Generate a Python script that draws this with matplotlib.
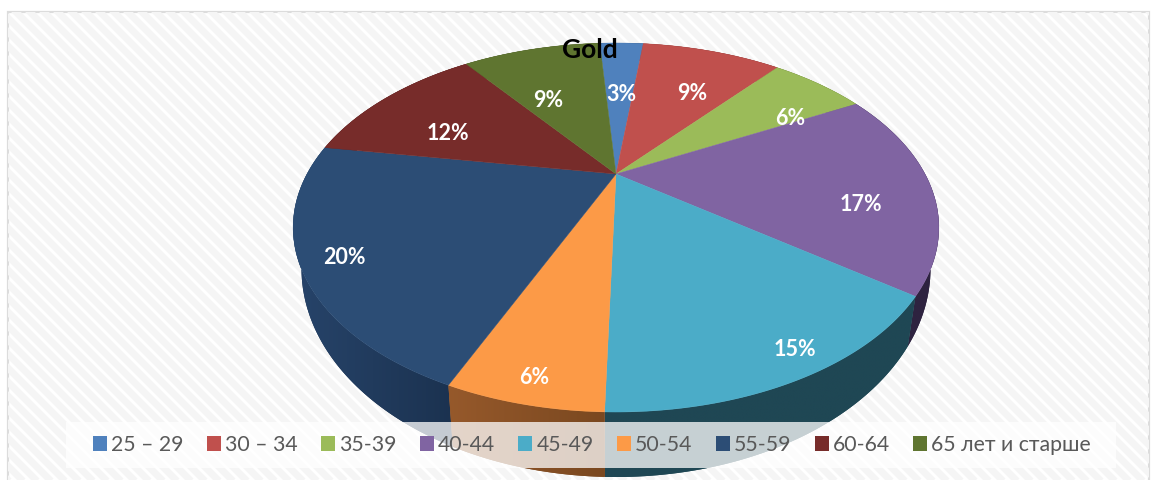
import numpy as np
import matplotlib
matplotlib.use("Agg")
import matplotlib.pyplot as plt
from matplotlib.patches import Rectangle, Patch, Polygon
from matplotlib.collections import LineCollection
from matplotlib.colors import to_rgb

plt.rcParams['font.family'] = ['Lato', 'Open Sans', 'DejaVu Sans']

# ---------- data ----------
title = "Gold"
categories = ["25 – 29", "30 – 34", "35-39", "40-44", "45-49", "50-54", "55-59", "60-64", "65 лет и старше"]
shares = [2.9, 9.2, 6.2, 18.0, 15.2, 6.1, 21.1, 12.2, 9.1]
labels = ["3%", "9%", "6%", "17%", "15%", "6%", "20%", "12%", "9%"]

# ---------- style ----------
colors = ["#4F81BD", "#C0504D", "#9BBB59", "#8064A2", "#4BACC8", "#FC9A47", "#2C4D75", "#772C2A", "#5F7530"]
wall_left = ["#2f4d71", "#73302e", "#5d7035", "#2e2340", "#1f4754", "#96592b", "#27446a", "#47191a", "#39461d"]
wall_right = ["#2f4d71", "#73302e", "#5d7035", "#2e2340", "#1f4754", "#7a4820", "#1b3250", "#47191a", "#39461d"]
label_r = [.565, .64, .732, .773, .907, .908, .879, .648, .576]
label_da = [.6, 3.6, 7.9, 7.4, -3.7, 0, 0, -6.3, -5.7]
START_DEG = -3.9
K = 0.29
CX = 616
TOP = dict(y0=174, a=309, b=169)
BOT = dict(y0=208, a=301, b=191)


def project(theta_deg, r=1.0, y0=174, a=309, b=169):
    t = np.radians(theta_deg)
    u, v = r * np.sin(t), r * np.cos(t)
    w = 1 + K * v
    return CX + a * u / w, y0 - b * v / w


fig = plt.figure(figsize=(11.61, 4.8), dpi=100, facecolor="white")
ax = fig.add_axes([0, 0, 1, 1])
ax.axis("off")

# chart area with faint diagonal stripes
frame = Rectangle((8, 12), 1141, 480, fc="white", ec="#dcdcdc", lw=1.6, zorder=1)
ax.add_patch(frame)
offs = np.arange(-500, 1700, 14.0)
segs = [[(o, 0), (o + 500, 500)] for o in offs]
stripes = LineCollection(segs, colors="#f5f5f5", linewidths=5, zorder=1.1)
ax.add_collection(stripes)
stripes.set_clip_path(frame)

edges = START_DEG + np.concatenate([[0], np.cumsum(shares)]) * 3.6
mids = (edges[:-1] + edges[1:]) / 2

# walls, back to front, each with a left-to-right shading
order = np.argsort(-np.cos(np.radians(mids)))
z = 2.0
for i in order:
    th = np.linspace(edges[i], edges[i + 1], 80)
    x1, y1 = project(th, **TOP)
    x2, y2 = project(th[::-1], **BOT)
    xs, ys = np.r_[x1, x2], np.r_[y1, y2]
    poly = Polygon(np.c_[xs, ys], closed=True, fc=wall_right[i], ec="none", zorder=z)
    ax.add_patch(poly)
    c0, c1 = np.array(to_rgb(wall_left[i])), np.array(to_rgb(wall_right[i]))
    g = np.linspace(0, 1, 128)[None, :, None]
    im = ax.imshow(c0 + (c1 - c0) * g, extent=(xs.min(), xs.max(), ys.max(), ys.min()),
                   aspect="auto", zorder=z + 0.001, interpolation="bilinear")
    im.set_clip_path(poly)
    z += 0.01

ax.set_xlim(0, 1161)
ax.set_ylim(480, 0)

# top faces
for i in range(len(shares)):
    th = np.linspace(edges[i], edges[i + 1], 80)
    x, y = project(th, **TOP)
    ax.fill(np.r_[CX, x], np.r_[TOP["y0"], y], color=colors[i], lw=0.3, zorder=3)
    lx, ly = project(mids[i] + label_da[i], label_r[i], **TOP)
    ax.annotate(labels[i], (lx, ly), xytext=(0, -1.6), textcoords="offset points",
                color="white", fontsize=15.5, fontweight="bold",
                ha="center", va="center", zorder=4)

ax.text(590, 50, title, color="black", fontsize=19, fontweight="bold",
        ha="center", va="center", zorder=5)

# legend band
ax.add_patch(Rectangle((66, 422), 1050, 46, fc="white", ec="none", alpha=0.75, zorder=5))
handles = [Patch(fc=c, ec="none") for c in colors]
leg = ax.legend(handles, categories, ncols=9, frameon=False, loc="center",
                bbox_to_anchor=(592 / 1161, 1 - 445 / 480), fontsize=15.3,
                labelcolor="#595959", handlelength=0.65, handleheight=0.65,
                handletextpad=0.2, columnspacing=1.1, borderpad=0, borderaxespad=0)
leg.set_zorder(6)

fig.savefig("out.png", dpi=100, facecolor="white")
